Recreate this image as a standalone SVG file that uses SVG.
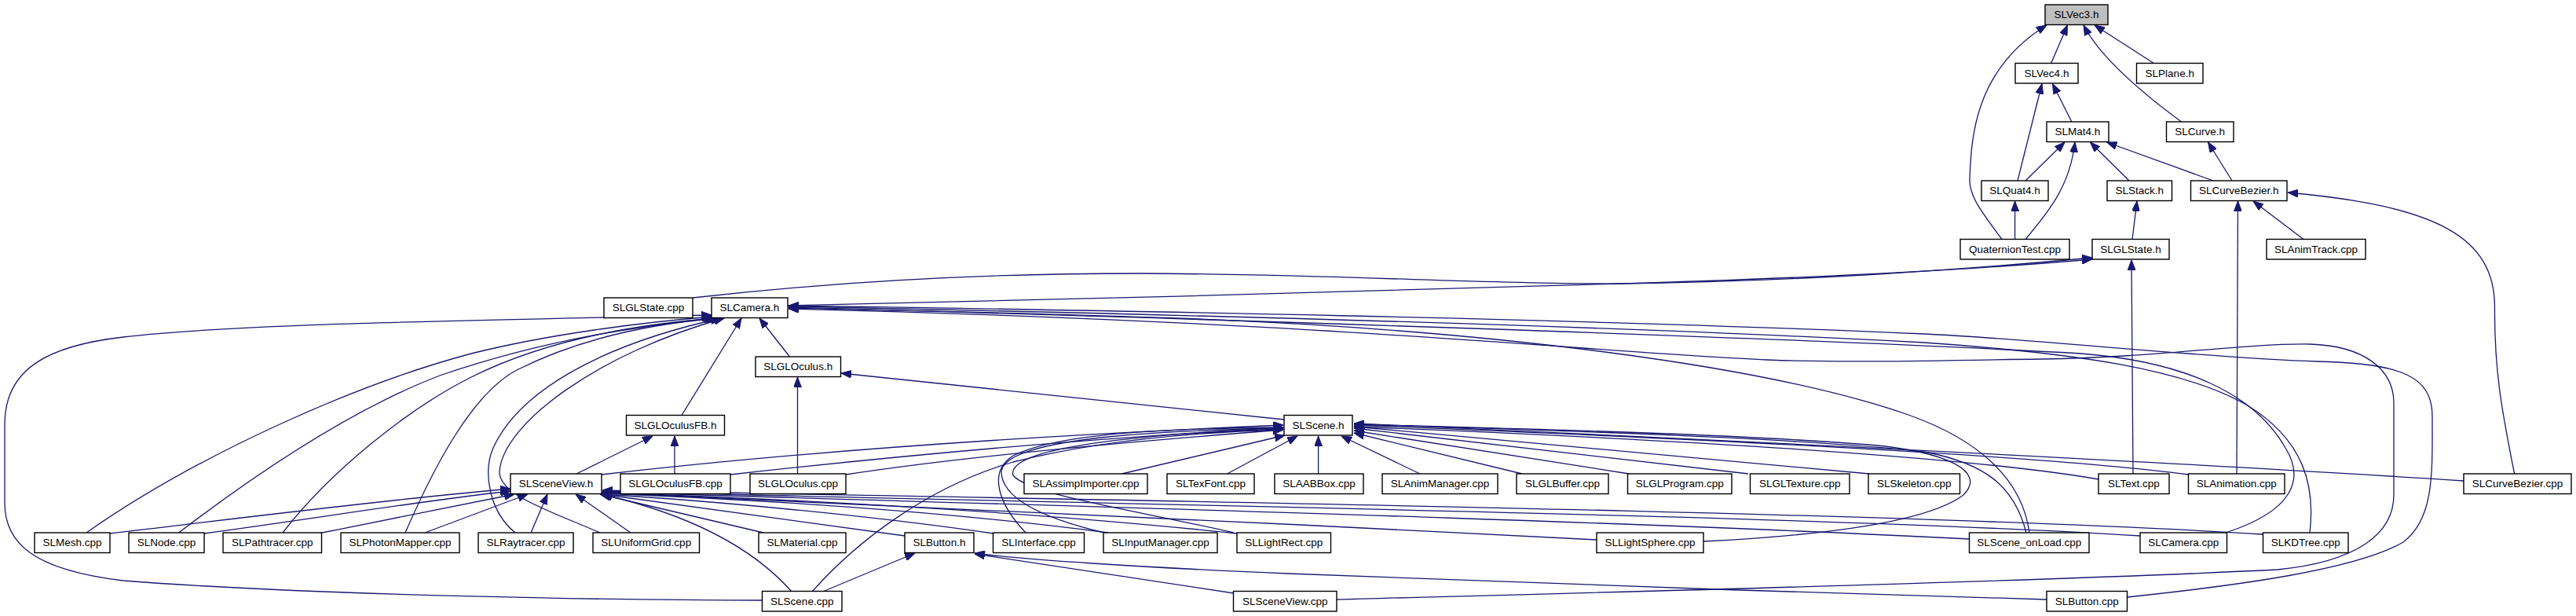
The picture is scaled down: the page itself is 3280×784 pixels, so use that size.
<svg xmlns="http://www.w3.org/2000/svg" width="3280" height="784" viewBox="0 0 3280 784">
<style>
.e{fill:none;stroke:#191970;stroke-width:1.3;marker-end:url(#a)}
.n rect{fill:#ffffff;stroke:#000000;stroke-width:1.4}
.n.root rect{fill:#bfbfbf}
.n text{font-family:"Liberation Sans",Arial,Helvetica,sans-serif;font-size:13.5px;fill:#000000;text-anchor:middle}
</style>
<defs>
<marker id="a" markerUnits="userSpaceOnUse" markerWidth="13" markerHeight="10" refX="13" refY="5" orient="auto">
<path d="M0,0 L13,5 L0,10 z" fill="#191970" stroke="#191970" stroke-width="1"/>
</marker>
</defs>
<rect x="0" y="0" width="3280" height="784" fill="#ffffff"/>
<g id="edges">
<path class="e" d="M2611.7,80.5 L2632.5,32"/>
<path class="e" d="M2742.4,80.5 L2667,32"/>
<path class="e" d="M2777.5,155 C2730,120 2675,75 2653,32"/>
<path class="e" d="M2549,304.5 C2525,272 2507,250 2508,228 C2510,180 2512,90 2606,32"/>
<path class="e" d="M2637.8,155 L2613.5,106.5"/>
<path class="e" d="M2569,230 L2600,106.5"/>
<path class="e" d="M2579,230 L2629,181"/>
<path class="e" d="M2579,304.5 C2610,268 2636,235 2642,181"/>
<path class="e" d="M2711,230 L2661.5,181"/>
<path class="e" d="M2818,230 L2682.5,181"/>
<path class="e" d="M2842,230 L2811.5,181"/>
<path class="e" d="M2565.6,304.5 L2565.6,256"/>
<path class="e" d="M2715,304.5 L2721,256"/>
<path class="e" d="M2933,304.5 L2869,256"/>
<path class="e" d="M2848,603 L2849.5,256"/>
<path class="e" d="M3201.6,603 C3185,520 3176,470 3176.5,392 C3177,300 3100,262 2913,245"/>
<path class="e" d="M2716,603 L2714,331"/>
<path class="e" d="M882,379 C1050,360 1250,348 1450,348 C1700,349 1900,362 2060,361 C2300,358 2500,343 2664,328"/>
<path class="e" d="M1003,389 C1300,382 1900,368 2100,360 C2350,352 2550,340 2664,330"/>
<path class="e" d="M1005.5,454 L967,405"/>
<path class="e" d="M868,528.5 L944,405"/>
<path class="e" d="M970.5,764 C800,764 400,758 157,739 C40,725 6,690 6,640 L6,540 C6,470 60,440 157,429 C300,412 600,408 906,401"/>
<path class="e" d="M110,678 C250,580 450,490 600,450 C700,425 820,410 907,403"/>
<path class="e" d="M227.5,678 C330,600 450,520 560,478 C700,430 820,415 909,404.5"/>
<path class="e" d="M360,678 C420,600 520,520 600,480 C700,430 820,412 912,405"/>
<path class="e" d="M516,678 C550,600 600,500 660,470 C740,430 830,412 915,405"/>
<path class="e" d="M656,678 C622,650 615,600 628,570 C660,500 760,440 918,405"/>
<path class="e" d="M764,678 C700,650 635,630 636,600 C640,540 760,450 922,405"/>
<path class="e" d="M2584,678 C2575,610 2520,560 2430,528 C2250,465 1900,420 1500,405 C1300,398 1100,394 1004,392"/>
<path class="e" d="M2834,678 C2920,650 2935,610 2910,570 C2870,500 2780,460 2650,450 C2300,430 1500,405 1004,391"/>
<path class="e" d="M2941,678 C2948,620 2935,560 2860,515 C2780,470 2650,450 2450,436 C2000,412 1400,398 1004,390"/>
<path class="e" d="M2708.5,760 C2850,745 3000,725 3060,690 C3100,660 3097,600 3097,530 C3097,480 3060,462 2950,460 C2800,455 2600,432 2450,425 C2000,405 1400,395 1004,389"/>
<path class="e" d="M1702,763 C2000,755 2600,740 2900,725 C3000,715 3048,680 3048,630 L3048,513 C3048,470 3010,440 2941,438 C2850,437 2750,455 2600,457 C2450,459 2350,462 2250,458 C2050,450 1700,410 1004,393"/>
<path class="e" d="M1015.5,603 L1015.5,480"/>
<path class="e" d="M1635,534 L1071,475"/>
<path class="e" d="M734,603 L831,555"/>
<path class="e" d="M859,603 L859,555"/>
<path class="e" d="M766,604 C1000,577 1300,555 1634,541"/>
<path class="e" d="M930,604 C1100,585 1350,560 1634,544"/>
<path class="e" d="M1077,604 C1200,585 1400,565 1634,547"/>
<path class="e" d="M1428.6,603 L1636,554"/>
<path class="e" d="M1562.5,603 L1652,555"/>
<path class="e" d="M1678.6,603 L1678.6,555"/>
<path class="e" d="M1808,603 L1708,555"/>
<path class="e" d="M1938,603 L1724,551"/>
<path class="e" d="M2074,603 L1724,548"/>
<path class="e" d="M2226,603 L1724,545"/>
<path class="e" d="M2380,603 L1724,543"/>
<path class="e" d="M2672,610 C2500,580 2100,558 1724,543"/>
<path class="e" d="M2787,604 C2600,580 2200,560 1724,541"/>
<path class="e" d="M3137,612 C2800,590 2300,565 1724,539"/>
<path class="e" d="M2580,678 C2565,620 2530,590 2450,575 C2300,558 2000,548 1724,540"/>
<path class="e" d="M2169,689 C2350,680 2460,660 2500,630 C2530,600 2480,575 2380,566 C2200,552 1950,546 1724,540"/>
<path class="e" d="M1306,678 C1270,640 1258,600 1290,580 C1350,550 1500,545 1634,544"/>
<path class="e" d="M1406,678 C1330,660 1275,635 1275,600 C1280,560 1450,548 1634,545"/>
<path class="e" d="M1571,678 C1450,650 1310,630 1290,605 C1280,570 1450,552 1634,546"/>
<path class="e" d="M1034,753 C1090,690 1180,620 1290,588 C1400,560 1520,550 1634,547"/>
<path class="e" d="M140,679 C300,660 500,635 650,622"/>
<path class="e" d="M260,679 C400,660 540,637 650,625"/>
<path class="e" d="M405,679 C500,660 600,640 655,629"/>
<path class="e" d="M541,678 L672,629"/>
<path class="e" d="M676,678 L697,629"/>
<path class="e" d="M803,678 L733,629"/>
<path class="e" d="M972,678 L764,629"/>
<path class="e" d="M1152,682 L766,629"/>
<path class="e" d="M1265,679 C1100,655 900,637 766,629"/>
<path class="e" d="M1411,678 C1200,650 950,635 766,628"/>
<path class="e" d="M1575,679 C1300,650 1000,635 766,627"/>
<path class="e" d="M2033,687 C1600,665 1100,640 767,627"/>
<path class="e" d="M2507,686 C2000,660 1200,640 767,626"/>
<path class="e" d="M2725,682 C2300,655 1300,640 767,625"/>
<path class="e" d="M2881,680 C2400,650 1300,635 767,624"/>
<path class="e" d="M1008,753 C970,710 900,660 766,629"/>
<path class="e" d="M1047.5,753 L1165,704"/>
<path class="e" d="M1571,755 L1241,705"/>
<path class="e" d="M2606,763 C2300,755 1900,740 1640,730 C1450,722 1300,712 1241,704"/>
</g>
<g id="node-SLVec3_h" class="n root"><rect x="2604" y="6" width="80" height="25.5"/><text x="2644" y="23">SLVec3.h</text></g>
<g id="node-SLVec4_h" class="n"><rect x="2566" y="80.5" width="80" height="25.5"/><text x="2606" y="97.5">SLVec4.h</text></g>
<g id="node-SLPlane_h" class="n"><rect x="2720.5" y="80.5" width="84.5" height="25.5"/><text x="2762.75" y="97.5">SLPlane.h</text></g>
<g id="node-SLMat4_h" class="n"><rect x="2606" y="155" width="79" height="25.5"/><text x="2645.5" y="172">SLMat4.h</text></g>
<g id="node-SLCurve_h" class="n"><rect x="2758.5" y="155" width="85.5" height="25.5"/><text x="2801.25" y="172">SLCurve.h</text></g>
<g id="node-SLQuat4_h" class="n"><rect x="2523" y="230" width="85" height="25.5"/><text x="2565.5" y="247">SLQuat4.h</text></g>
<g id="node-SLStack_h" class="n"><rect x="2683" y="230" width="82.5" height="25.5"/><text x="2724.25" y="247">SLStack.h</text></g>
<g id="node-SLCurveBezier_h" class="n"><rect x="2789.5" y="230" width="122.5" height="25.5"/><text x="2850.75" y="247">SLCurveBezier.h</text></g>
<g id="node-QuaternionTest_cpp" class="n"><rect x="2496" y="304.5" width="139" height="25.5"/><text x="2565.5" y="321.5">QuaternionTest.cpp</text></g>
<g id="node-SLGLState_h" class="n"><rect x="2664" y="304.5" width="98" height="25.5"/><text x="2713" y="321.5">SLGLState.h</text></g>
<g id="node-SLAnimTrack_cpp" class="n"><rect x="2886" y="304.5" width="126" height="25.5"/><text x="2949" y="321.5">SLAnimTrack.cpp</text></g>
<g id="node-SLGLState_cpp" class="n"><rect x="769" y="379" width="113" height="25.5"/><text x="825.5" y="396">SLGLState.cpp</text></g>
<g id="node-SLCamera_h" class="n"><rect x="906" y="379" width="97" height="25.5"/><text x="954.5" y="396">SLCamera.h</text></g>
<g id="node-SLGLOculus_h" class="n"><rect x="962" y="454" width="108.5" height="25.5"/><text x="1016.25" y="471">SLGLOculus.h</text></g>
<g id="node-SLGLOculusFB_h" class="n"><rect x="797.5" y="528.5" width="125" height="25.5"/><text x="860" y="545.5">SLGLOculusFB.h</text></g>
<g id="node-SLScene_h" class="n"><rect x="1635" y="528.5" width="87" height="25.5"/><text x="1678.5" y="545.5">SLScene.h</text></g>
<g id="node-SLSceneView_h" class="n"><rect x="650" y="603" width="116" height="25.5"/><text x="708" y="620">SLSceneView.h</text></g>
<g id="node-SLGLOculusFB_cpp" class="n"><rect x="790" y="603" width="140" height="25.5"/><text x="860" y="620">SLGLOculusFB.cpp</text></g>
<g id="node-SLGLOculus_cpp" class="n"><rect x="955" y="603" width="122" height="25.5"/><text x="1016" y="620">SLGLOculus.cpp</text></g>
<g id="node-SLAssimpImporter_cpp" class="n"><rect x="1304" y="603" width="157" height="25.5"/><text x="1382.5" y="620">SLAssimpImporter.cpp</text></g>
<g id="node-SLTexFont_cpp" class="n"><rect x="1486" y="603" width="111" height="25.5"/><text x="1541.5" y="620">SLTexFont.cpp</text></g>
<g id="node-SLAABBox_cpp" class="n"><rect x="1623" y="603" width="113" height="25.5"/><text x="1679.5" y="620">SLAABBox.cpp</text></g>
<g id="node-SLAnimManager_cpp" class="n"><rect x="1760" y="603" width="147" height="25.5"/><text x="1833.5" y="620">SLAnimManager.cpp</text></g>
<g id="node-SLGLBuffer_cpp" class="n"><rect x="1931" y="603" width="117" height="25.5"/><text x="1989.5" y="620">SLGLBuffer.cpp</text></g>
<g id="node-SLGLProgram_cpp" class="n"><rect x="2072.5" y="603" width="132.5" height="25.5"/><text x="2138.75" y="620">SLGLProgram.cpp</text></g>
<g id="node-SLGLTexture_cpp" class="n"><rect x="2228.5" y="603" width="126.5" height="25.5"/><text x="2291.75" y="620">SLGLTexture.cpp</text></g>
<g id="node-SLSkeleton_cpp" class="n"><rect x="2379" y="603" width="116.5" height="25.5"/><text x="2437.25" y="620">SLSkeleton.cpp</text></g>
<g id="node-SLText_cpp" class="n"><rect x="2672" y="603" width="90" height="25.5"/><text x="2717" y="620">SLText.cpp</text></g>
<g id="node-SLAnimation_cpp" class="n"><rect x="2786.5" y="603" width="122.5" height="25.5"/><text x="2847.75" y="620">SLAnimation.cpp</text></g>
<g id="node-SLCurveBezier_cpp" class="n"><rect x="3137" y="603" width="137" height="25.5"/><text x="3205.5" y="620">SLCurveBezier.cpp</text></g>
<g id="node-SLMesh_cpp" class="n"><rect x="44" y="678" width="96" height="25.5"/><text x="92" y="695">SLMesh.cpp</text></g>
<g id="node-SLNode_cpp" class="n"><rect x="164" y="678" width="96" height="25.5"/><text x="212" y="695">SLNode.cpp</text></g>
<g id="node-SLPathtracer_cpp" class="n"><rect x="284" y="678" width="125.5" height="25.5"/><text x="346.75" y="695">SLPathtracer.cpp</text></g>
<g id="node-SLPhotonMapper_cpp" class="n"><rect x="434" y="678" width="151" height="25.5"/><text x="509.5" y="695">SLPhotonMapper.cpp</text></g>
<g id="node-SLRaytracer_cpp" class="n"><rect x="609" y="678" width="121" height="25.5"/><text x="669.5" y="695">SLRaytracer.cpp</text></g>
<g id="node-SLUniformGrid_cpp" class="n"><rect x="755" y="678" width="135.5" height="25.5"/><text x="822.75" y="695">SLUniformGrid.cpp</text></g>
<g id="node-SLMaterial_cpp" class="n"><rect x="966" y="678" width="111" height="25.5"/><text x="1021.5" y="695">SLMaterial.cpp</text></g>
<g id="node-SLButton_h" class="n"><rect x="1152" y="678" width="88" height="25.5"/><text x="1196" y="695">SLButton.h</text></g>
<g id="node-SLInterface_cpp" class="n"><rect x="1264.5" y="678" width="116" height="25.5"/><text x="1322.5" y="695">SLInterface.cpp</text></g>
<g id="node-SLInputManager_cpp" class="n"><rect x="1405" y="678" width="145" height="25.5"/><text x="1477.5" y="695">SLInputManager.cpp</text></g>
<g id="node-SLLightRect_cpp" class="n"><rect x="1575" y="678" width="119.5" height="25.5"/><text x="1634.75" y="695">SLLightRect.cpp</text></g>
<g id="node-SLLightSphere_cpp" class="n"><rect x="2033" y="678" width="136" height="25.5"/><text x="2101" y="695">SLLightSphere.cpp</text></g>
<g id="node-SLScene_onLoad_cpp" class="n"><rect x="2507.5" y="678" width="152.5" height="25.5"/><text x="2583.75" y="695">SLScene_onLoad.cpp</text></g>
<g id="node-SLCamera_cpp" class="n"><rect x="2725" y="678" width="110.5" height="25.5"/><text x="2780.25" y="695">SLCamera.cpp</text></g>
<g id="node-SLKDTree_cpp" class="n"><rect x="2881.5" y="678" width="108.5" height="25.5"/><text x="2935.75" y="695">SLKDTree.cpp</text></g>
<g id="node-SLScene_cpp" class="n"><rect x="970.5" y="752.5" width="101.5" height="25.5"/><text x="1021.25" y="769.5">SLScene.cpp</text></g>
<g id="node-SLSceneView_cpp" class="n"><rect x="1570.5" y="752.5" width="131.5" height="25.5"/><text x="1636.25" y="769.5">SLSceneView.cpp</text></g>
<g id="node-SLButton_cpp" class="n"><rect x="2606" y="752.5" width="102.5" height="25.5"/><text x="2657.25" y="769.5">SLButton.cpp</text></g>
</svg>
